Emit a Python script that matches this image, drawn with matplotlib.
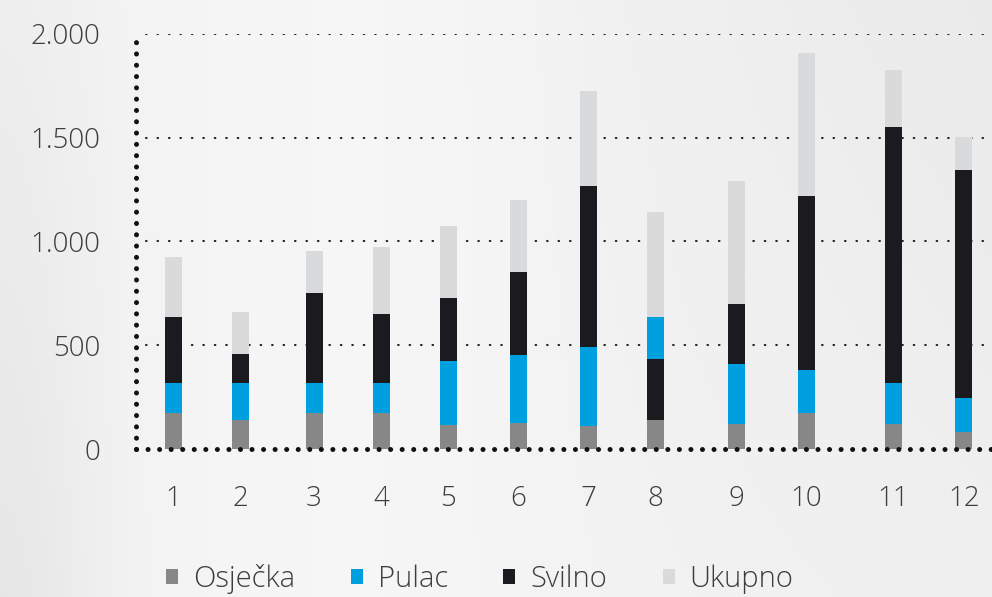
import numpy as np
import matplotlib
matplotlib.use("Agg")
import matplotlib.pyplot as plt
from matplotlib.patches import Patch

plt.rcParams['font.family'] = ['Open Sans', 'DejaVu Sans']

# ---- data ----
months = ["1", "2", "3", "4", "5", "6", "7", "8", "9", "10", "11", "12"]
x_pos = [1.0, 2.0, 3.1, 4.1, 5.1, 6.15, 7.2, 8.2, 9.4, 10.45, 11.75, 12.8]
series_names = ["Osječka", "Pulac", "Svilno", "Ukupno"]
osjecka = [175, 140, 175, 175, 116, 125, 112, 140, 120, 173, 120, 82]
pulac = [145, 180, 145, 145, 308, 328, 380, 202, 290, 208, 198, 164]
svilno = [318, 138, 433, 331, 305, 400, 775, 294, 289, 838, 1234, 1099]
ukupno = [289, 204, 201, 324, 346, 347, 458, 506, 593, 689, 275, 159]
# stacking order per bar (bar 8 has Svilno below Pulac)
default_order = ["Osječka", "Pulac", "Svilno", "Ukupno"]
special_order = {7: ["Osječka", "Svilno", "Pulac", "Ukupno"]}
y_ticks = [0, 500, 1000, 1500, 2000]
y_tick_labels = ["0", "500", "1.000", "1.500", "2.000"]

colors = {"Osječka": "#878787", "Pulac": "#009fe0",
          "Svilno": "#1b1a1e", "Ukupno": "#d9dadc"}
values = {"Osječka": osjecka, "Pulac": pulac, "Svilno": svilno, "Ukupno": ukupno}
text_color = "#3d3d3d"

W, H = 992, 597
fig = plt.figure(figsize=(W / 100, H / 100), dpi=100)

# background gradient
bg = fig.add_axes([0, 0, 1, 1], zorder=-10)
xx = np.linspace(0, 1, 400)
yy = np.linspace(0, 1, 240)
X, Y = np.meshgrid(xx, yy)  # Y = 0 top, 1 bottom
prof = (0.955
        - 0.05 * np.exp(-(X / 0.10) ** 2) * (0.4 + 0.6 * Y)
        - 0.035 * np.clip((X - 0.45) / 0.55, 0, 1) * (1 - 0.6 * Y)
        + 0.01 * np.exp(-((X - 0.35) / 0.2) ** 2))
img = np.dstack([prof, prof, prof * 1.004])
bg.imshow(np.clip(img, 0, 1), aspect='auto', extent=[0, 1, 0, 1], origin='upper')
bg.axis('off')

# main axes
left_px, right_px, zero_px, top_px = 136, 992, 449, 34
ax = fig.add_axes([left_px / W, (H - zero_px) / H,
                   (right_px - left_px) / W, (zero_px - top_px) / H])
ax.patch.set_alpha(0)
unit = 67.0
x_left = 1 + (left_px - 173.3) / unit
x_right = 1 + (right_px - 173.3) / unit
ax.set_xlim(x_left, x_right)
ax.set_ylim(0, 2000)

bar_w = 17 / unit
for i, xp in enumerate(x_pos):
    order = special_order.get(i, default_order)
    bottom = 0
    for name in order:
        v = values[name][i]
        ax.bar(xp, v, width=bar_w, bottom=bottom, color=colors[name],
               zorder=3, linewidth=0)
        bottom += v

# grid lines (small dots)
for yt in y_ticks[1:]:
    ax.axhline(yt, xmin=0.012, xmax=1, color="#222222", lw=1.5,
               linestyle=(0, (0.3, 5.2)), dash_capstyle='round', zorder=1)

for s in ax.spines.values():
    s.set_visible(False)

# big dotted axes
ax.plot([x_left + 0.005, x_left + 0.005], [0, 2000], color="#111111", lw=3.6,
        linestyle=(0, (0.01, 2.25)), dash_capstyle='round', zorder=5,
        clip_on=False)
ax.plot([x_left + 0.005, x_right], [0, 0], color="#111111", lw=3.6,
        linestyle=(0, (0.01, 2.3)), dash_capstyle='round', zorder=5,
        clip_on=False)

ax.set_yticks(y_ticks)
ax.set_yticklabels(y_tick_labels)
ax.set_xticks(x_pos)
ax.set_xticklabels(months)
ax.tick_params(axis='both', length=0, labelsize=20, labelcolor=text_color)
ax.tick_params(axis='y', pad=26)
ax.tick_params(axis='x', pad=26)
for lab in ax.get_xticklabels() + ax.get_yticklabels():
    lab.set_fontweight('light')

handles = [Patch(facecolor=colors[n], edgecolor='none', label=n) for n in series_names]
leg = fig.legend(handles=handles, loc='center left', ncol=4, frameon=False,
                 bbox_to_anchor=(166 / W, (H - 579) / H), fontsize=21,
                 handlelength=0.41, handleheight=0.41, handletextpad=0.52,
                 columnspacing=1.9, borderaxespad=0, borderpad=0)
for t in leg.get_texts():
    t.set_color(text_color)
    t.set_fontweight('light')

fig.savefig("out.png", dpi=100)
